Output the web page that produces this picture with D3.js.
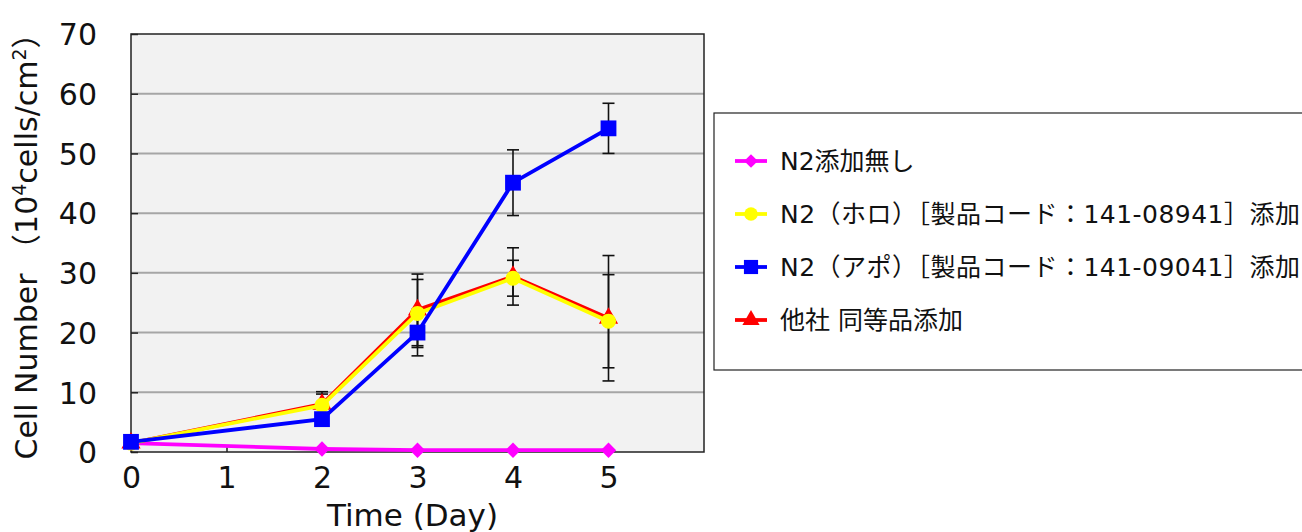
<!DOCTYPE html>
<html>
<head>
<meta charset="utf-8">
<script src="https://cdn.jsdelivr.net/npm/d3@7"></script>
<style>
  body { margin: 0; background: #fff; }
  svg { display: block; font-family: "DejaVu Sans", "Noto Sans CJK JP", sans-serif; }
</style>
</head>
<body>
<div id="chart"></div>
<script>
const W = 1302, H = 532;

// data
const days = [0, 2, 3, 4, 5];
const seriesNames = ["N2添加無し", "N2（ホロ）［製品コード：141-08941］添加", "N2（アポ）［製品コード：141-09041］添加", "他社 同等品添加"];
const noAdd   = [1.5, 0.5, 0.3, 0.3, 0.3];
const holo    = [1.5, 7.8, 23.2, 29.1, 21.9];
const holoErr = [0, 1.9, 5.7, 3.0, 7.8];
const apo     = [1.7, 5.5, 20.0, 45.1, 54.2];
const apoErr  = [0, 0.8, 3.9, 5.5, 4.2];
const other   = [1.5, 8.0, 23.8, 29.4, 22.4];
const otherErr= [0, 2.1, 6.0, 4.8, 10.5];
const yTicks = [0, 10, 20, 30, 40, 50, 60, 70];
const xTicks = [0, 1, 2, 3, 4, 5];

const m = {l: 131, r: 704, t: 34, b: 452};

const svg = d3.select("#chart").append("svg").attr("width", W).attr("height", H);

const x = d3.scaleLinear().domain([0, 6]).range([m.l, m.r]);
const y = d3.scaleLinear().domain([0, 70]).range([m.b, m.t]);

// plot background
svg.append("rect")
  .attr("x", m.l).attr("y", m.t)
  .attr("width", m.r - m.l).attr("height", m.b - m.t)
  .attr("fill", "#f2f2f2");

// gridlines
svg.append("g").selectAll("line")
  .data(yTicks.slice(1, -1))
  .join("line")
    .attr("x1", m.l).attr("x2", m.r)
    .attr("y1", d => y(d)).attr("y2", d => y(d))
    .attr("stroke", "#a6a6a6").attr("stroke-width", 2);

svg.append("rect")
  .attr("x", m.l).attr("y", m.t)
  .attr("width", m.r - m.l).attr("height", m.b - m.t)
  .attr("fill", "none").attr("stroke", "#222").attr("stroke-width", 1.5);

// axes
const yAxis = svg.append("g").attr("transform", `translate(${m.l},0)`)
  .call(d3.axisLeft(y).tickValues(yTicks).tickFormat(d3.format("d")).tickSize(-7).tickPadding(34));
const xAxis = svg.append("g").attr("transform", `translate(0,${m.b})`)
  .call(d3.axisBottom(x).tickValues(xTicks).tickFormat(d3.format("d")).tickSize(-7).tickPadding(15));
[yAxis, xAxis].forEach(a => {
  a.select(".domain").remove();
  a.selectAll("line").attr("stroke", "#222").attr("stroke-width", 1.5);
  a.selectAll("text").attr("font-size", 30).attr("fill", "#111").attr("font-family", "DejaVu Sans");
});
yAxis.selectAll("text").attr("dy", "0.36em");

// axis titles
svg.append("text")
  .attr("x", (m.l + m.r) / 2 - 5).attr("y", 526)
  .attr("text-anchor", "middle").attr("font-size", 31).attr("fill", "#111")
  .text("Time (Day)");

const yt = svg.append("text")
  .attr("transform", "translate(37,239) rotate(-90)")
  .attr("text-anchor", "middle").attr("font-size", 30).attr("fill", "#111");
yt.append("tspan").text("Cell Number （10");
yt.append("tspan").attr("font-size", 19).attr("dy", -11).text("4");
yt.append("tspan").attr("dy", 11).text("cells/cm");
yt.append("tspan").attr("font-size", 19).attr("dy", -11).text("2");
yt.append("tspan").attr("dy", 11).text("）");

const series = [
  {name: seriesNames[0], vals: noAdd, err: null, color: "#ff00ff", shape: d3.symbolDiamond2, size: 150},
  {name: seriesNames[3], vals: other, err: otherErr, color: "#ff0000", shape: d3.symbolTriangle, size: 160},
  {name: seriesNames[1], vals: holo, err: holoErr, color: "#ffff00", shape: d3.symbolCircle, size: 180},
  {name: seriesNames[2], vals: apo, err: apoErr, color: "#0000ff", shape: d3.symbolSquare, size: 250}
];

const line = d3.line().x(d => x(d.day)).y(d => y(d.v));

// error bars first
series.filter(s => s.err).forEach(s => {
  const pts = days.map((d, i) => ({day: d, v: s.vals[i], e: s.err[i]})).filter(p => p.e > 0);
  const g = svg.append("g").attr("stroke", "#111").attr("stroke-width", 1.6);
  g.selectAll("line.v").data(pts).join("line").attr("class", "v")
    .attr("x1", p => x(p.day)).attr("x2", p => x(p.day))
    .attr("y1", p => y(p.v - p.e)).attr("y2", p => y(p.v + p.e));
  ["hi", "lo"].forEach(k => {
    g.selectAll("line." + k).data(pts).join("line").attr("class", k)
      .attr("x1", p => x(p.day) - 6).attr("x2", p => x(p.day) + 6)
      .attr("y1", p => y(k === "hi" ? p.v + p.e : p.v - p.e))
      .attr("y2", p => y(k === "hi" ? p.v + p.e : p.v - p.e));
  });
});

series.forEach(s => {
  const pts = days.map((d, i) => ({day: d, v: s.vals[i]}));
  const g = svg.append("g");
  g.append("path").datum(pts).attr("d", line)
    .attr("fill", "none").attr("stroke", s.color).attr("stroke-width", 3.8);
  g.selectAll("path.mk").data(pts).join("path").attr("class", "mk")
    .attr("transform", p => `translate(${x(p.day)},${y(p.v)})`)
    .attr("d", d3.symbol(s.shape, s.size))
    .attr("fill", s.color);
});

// legend
const lg = svg.append("g");
lg.append("rect").attr("x", 714).attr("y", 113).attr("width", 600).attr("height", 257)
  .attr("fill", "#fff").attr("stroke", "#222").attr("stroke-width", 1.2);
const legendOrder = [series[0], series[2], series[3], series[1]];
const ly = d3.scalePoint().domain(legendOrder.map(s => s.name)).range([161, 320]);
legendOrder.forEach(s => {
  const cy = ly(s.name);
  lg.append("line").attr("x1", 735).attr("x2", 767).attr("y1", cy).attr("y2", cy)
    .attr("stroke", s.color).attr("stroke-width", 3.8);
  lg.append("path").attr("transform", `translate(751,${cy})`)
    .attr("d", d3.symbol(s.shape, s.size * 0.8)).attr("fill", s.color);
  const t = lg.append("text").attr("x", 780).attr("y", cy).attr("dy", "0.36em")
    .attr("font-size", 25).attr("fill", "#111").text(s.name);
  if (s.name.length > 20) t.attr("textLength", 520).attr("lengthAdjust", "spacing");
});
</script>
</body>
</html>
